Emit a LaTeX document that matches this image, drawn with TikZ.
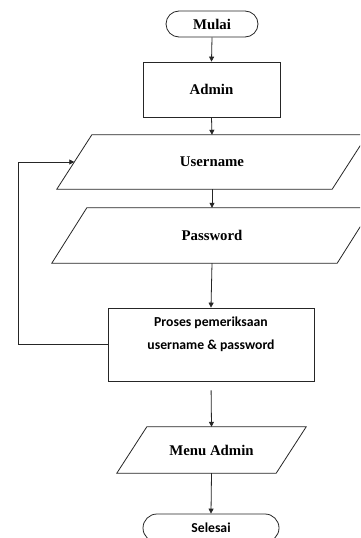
\documentclass[tikz,border=0pt]{standalone}
\usepackage{fontspec}
\setmainfont{Liberation Serif}
\newfontfamily\calfont{Carlito}
\usetikzlibrary{arrows.meta,calc}
\tikzset{
  line/.style={draw=black!85,line width=0.8pt},
  arr/.style={line,-{Triangle[length=5pt,width=5pt]}},
  serifbold/.style={font=\fontsize{14.8}{17}\selectfont\bfseries},
  sansbold/.style={font=\calfont\fontsize{13.7}{23}\selectfont\bfseries},
  terminal/.style={line,rounded corners=13pt,minimum height=26pt,inner sep=0pt},
  procbox/.style={line,rectangle,inner sep=0pt},
  iobox/.style={rectangle,inner sep=0pt}
}
\begin{document}
\begin{tikzpicture}[x=1pt,y=-1pt]
\fill[white] (0,0) rectangle (360,538);
\clip (0,0) rectangle (360,538);
% nodes
\node[terminal,serifbold,minimum width=92pt] (mulai) at (212,24) {Mulai};
\node[procbox,serifbold,minimum width=137pt,minimum height=55pt] (admin) at (211.5,89.5) {Admin};
\node[iobox,serifbold,minimum width=275pt,minimum height=54pt] (user) at (212,162) {Username};
\node[iobox,serifbold,minimum width=285pt,minimum height=55pt] (pass) at (212,235.5) {Password};
\node[procbox,minimum width=206pt,minimum height=73pt] (proc) at (211,344.5) {};
\node[sansbold,align=center,inner sep=0pt] (proctext) at (211,334.5) {Proses pemeriksaan\\username \& password};
\node[iobox,serifbold,minimum width=159pt,minimum height=46pt] (menu) at (211.5,450) {Menu Admin};
\node[terminal,sansbold,minimum width=136pt,minimum height=28pt,rounded corners=14pt] (selesai) at (211,528) {Selesai};
% parallelograms
\foreach \n/\s in {user/35,pass/35,menu/30}{
  \draw[line] ($(\n.north west)+(\s/2,0)$) -- ($(\n.north east)+(\s/2,0)$)
    -- ($(\n.south east)-(\s/2,0)$) -- ($(\n.south west)-(\s/2,0)$) -- cycle;
}
% connectors
\draw[arr] (mulai.south) -- (admin.north);
\draw[arr] (admin.south) -- (user.north);
\draw[arr] (user.south) -- (pass.north);
\draw[arr] (pass.south) -- (proc.north);
\draw[arr,shorten <=9pt] (proc.south) -- (menu.north);
\draw[arr] (menu.south) -- (selesai.north);
\coordinate (loopx) at (18,0);
\draw[arr] (proc.west) -- (proc.west -| loopx) -- (user.west -| loopx) -- (user.west);
\end{tikzpicture}
\end{document}
